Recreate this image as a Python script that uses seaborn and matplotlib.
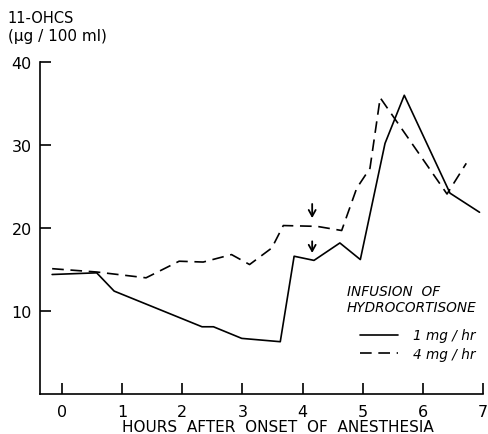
import numpy as np
import pandas as pd
import matplotlib.pyplot as plt
import seaborn as sns

# 1 mg/hr infusion (solid)
hours_1mg = [-0.16, 0.58, 0.87, 2.33, 2.52, 2.99, 3.63, 3.86, 4.19, 4.62, 4.96, 5.37, 5.69, 6.45, 6.94]
ohcs_1mg = [14.4, 14.6, 12.4, 8.1, 8.1, 6.7, 6.3, 16.6, 16.1, 18.2, 16.2, 30.2, 36.0, 24.2, 21.9]

# 4 mg/hr infusion (dashed)
hours_4mg = [-0.16, 0.58, 1.40, 1.95, 2.35, 2.82, 3.12, 3.49, 3.68, 4.24, 4.65, 4.90, 5.12, 5.29, 6.40, 6.72]
ohcs_4mg = [15.1, 14.7, 14.0, 16.0, 15.9, 16.8, 15.6, 17.6, 20.3, 20.2, 19.7, 24.8, 27.2, 35.7, 24.1, 27.8]

# arrows marking the infusion: (hour, tail, head)
arrows = [(4.16, 22.9, 21.2), (4.16, 18.4, 17.0)]

x_ticks = [0, 1, 2, 3, 4, 5, 6, 7]
y_ticks = [10, 20, 30, 40]

sns.set_style("ticks")
plt.rcParams['font.family'] = ['DejaVu Sans']
plt.rcParams['text.color'] = 'black'
plt.rcParams['axes.labelcolor'] = 'black'

fig = plt.figure(figsize=(4.89, 4.35), dpi=100)
ax = fig.add_axes([0.082, 0.092, 0.906, 0.763])

df1 = pd.DataFrame({"hours": hours_1mg, "ohcs": ohcs_1mg})
df4 = pd.DataFrame({"hours": hours_4mg, "ohcs": ohcs_4mg})
sns.lineplot(data=df1, x="hours", y="ohcs", color="black", lw=1.2, ax=ax,
             label="1 mg / hr")
sns.lineplot(data=df4, x="hours", y="ohcs", color="black", lw=1.2, ax=ax,
             label="4 mg / hr", linestyle=(0, (7, 4)))

for hx, tail, head in arrows:
    ax.annotate("", xy=(hx, head), xytext=(hx, tail),
                arrowprops=dict(arrowstyle="->,head_length=0.45,head_width=0.25",
                                color="black", lw=1.3, shrinkA=0, shrinkB=0))

ax.set_xlim(-0.36, 7)
ax.set_ylim(0, 40)
ax.set_xticks(x_ticks)
ax.set_yticks(y_ticks)
ax.tick_params(axis="both", direction="in", length=8, width=1.2, color="black",
               labelsize=11.5, labelcolor="black")
ax.tick_params(axis="y", pad=6)
ax.tick_params(axis="x", pad=7)
for s in ["top", "right"]:
    ax.spines[s].set_visible(False)
for s in ["left", "bottom"]:
    ax.spines[s].set_linewidth(1.2)
    ax.spines[s].set_color("black")

ax.set_xlabel("")
ax.set_ylabel("")
fig.text(0.569, 0.017, "HOURS  AFTER  ONSET  OF  ANESTHESIA", fontsize=11,
         ha="center", va="center")
fig.text(0.016, 0.958, "11-OHCS", fontsize=10.5, ha="left", va="center")
fig.text(0.016, 0.917, "(\u03bcg / 100 ml)", fontsize=11, ha="left", va="center")

ax.text(0.693, 0.33, "INFUSION  OF\nHYDROCORTISONE", transform=ax.transAxes,
        fontsize=9.8, fontstyle="italic", ha="left", va="top", linespacing=1.1)
leg = ax.legend(loc="center left", bbox_to_anchor=(0.722, 0.149), frameon=False,
                handlelength=2.8, fontsize=9.8, borderpad=0, borderaxespad=0,
                labelspacing=0.3, handletextpad=1.1)
for t in leg.get_texts():
    t.set_fontstyle("italic")

fig.savefig("out.png", dpi=100)
